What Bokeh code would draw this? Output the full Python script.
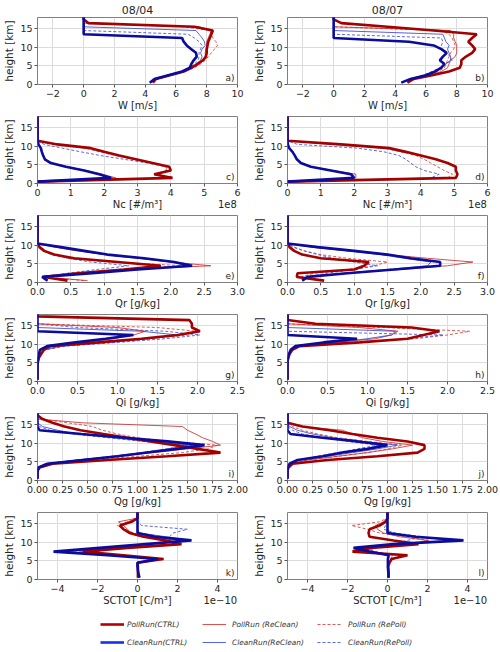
from bokeh.plotting import figure
from bokeh.layouts import column, row
from bokeh.models import Range1d, FixedTicker, Label, Legend, LegendItem, LinearAxis
from bokeh.embed import file_html
from bokeh.resources import INLINE

# ---------------- data (height levels in km) ----------------
Z_KM = [0.5, 1.5, 2.5, 3.5, 4.5, 5.5, 6.5, 7.5, 8.5, 9.5, 10.5, 11.5, 12.5, 13.5, 14.5, 15.5, 16.5, 17.5, 18.5]
DATES = ["08/04", "08/07"]
SERIES_NAMES = ["PollRun(CTRL)", "CleanRun(CTRL)", "PollRun (ReClean)", "CleanRun(ReClean)", "PollRun (RePoll)", "CleanRun(RePoll)"]

# W [m/s]
W_0804_PC = [4.5, 4.7, 5.6, 6.5, 7.0, 7.4, 7.75, 7.95, 8.0, 8.0, 8.05, 8.1, 8.2, 8.3, 8.4, 7.2, 0.3, 0, 0]
W_0804_CC = [4.3, 4.6, 5.5, 6.4, 6.9, 7.0, 7.15, 7.35, 7.3, 7.0, 6.7, 6.5, 6.4, 0, 0, 0, 0, 0, 0]
W_0804_PR = [4.5, 4.7, 5.6, 6.5, 7.1, 7.5, 7.8, 7.9, 7.9, 7.95, 8.0, 8.0, 8.1, 8.2, 8.3, 7.5, 0, 0, 0]
W_0804_CR = [4.3, 4.6, 5.5, 6.4, 7.0, 7.3, 7.6, 7.7, 7.6, 7.7, 7.9, 7.85, 7.7, 7.5, 7.3, 0, 0, 0, 0]
W_0804_PP = [4.5, 4.8, 5.7, 6.6, 7.2, 7.6, 7.9, 8.1, 8.3, 8.5, 8.7, 8.6, 8.4, 8.3, 8.2, 6.5, 0, 0, 0]
W_0804_CP = [4.3, 4.6, 5.5, 6.4, 6.9, 7.2, 7.45, 7.5, 7.5, 7.6, 7.7, 7.5, 7.2, 6.8, 0, 0, 0, 0, 0]

W_0807_PC = [4.8, 5.2, 6.4, 7.5, 8.2, 8.3, 8.3, 8.6, 9.0, 9.2, 9.0, 8.75, 9.0, 9.3, 6.5, 3.5, 0.5, 0, 0]
W_0807_CC = [4.4, 5.0, 6.0, 6.6, 7.0, 7.2, 6.9, 7.1, 7.35, 7.0, 6.5, 4.9, 0, 0, 0, 0, 0, 0, 0]
W_0807_PR = [4.8, 5.2, 6.3, 7.0, 7.4, 7.5, 7.6, 7.9, 8.0, 8.0, 8.0, 7.9, 7.8, 7.8, 7.6, 0, 0, 0, 0]
W_0807_CR = [4.4, 5.0, 5.9, 6.5, 6.9, 7.3, 7.6, 7.6, 7.5, 7.4, 7.5, 7.3, 7.2, 7.1, 0, 0, 0, 0, 0]
W_0807_PP = [4.8, 5.3, 6.2, 6.8, 7.2, 7.3, 7.4, 7.5, 7.6, 7.8, 7.9, 7.8, 7.7, 7.5, 7.0, 0, 0, 0, 0]
W_0807_CP = [4.4, 4.9, 5.8, 6.4, 6.9, 7.2, 7.7, 7.6, 7.3, 7.0, 7.0, 7.1, 7.0, 0, 0, 0, 0, 0, 0]

# Nc [1e8 #/m3]
NC_0804_PC = [0, 4.05, 3.5, 4.0, 3.95, 3.45, 2.95, 2.45, 2.0, 1.6, 0.6, 0, 0, 0, 0, 0, 0, 0, 0]
NC_0804_CC = [0, 2.2, 1.85, 1.4, 0.85, 0.4, 0.22, 0.17, 0.13, 0.1, 0.03, 0, 0, 0, 0, 0, 0, 0, 0]
NC_0804_PR = [0, 2.35, 1.95, 1.45, 0.9, 0.42, 0.24, 0.18, 0.14, 0.1, 0.04, 0, 0, 0, 0, 0, 0, 0, 0]
NC_0804_CR = [0, 2.25, 1.85, 1.4, 0.85, 0.4, 0.22, 0.17, 0.13, 0.1, 0.03, 0, 0, 0, 0, 0, 0, 0, 0]
NC_0804_PP = [0, 4.0, 3.6, 3.9, 3.85, 3.35, 2.85, 2.35, 1.85, 1.45, 0.5, 0, 0, 0, 0, 0, 0, 0, 0]
NC_0804_CP = [0, 3.95, 3.55, 3.85, 3.9, 3.3, 2.6, 1.9, 1.3, 0.75, 0.2, 0, 0, 0, 0, 0, 0, 0, 0]

NC_0807_PC = [0, 5.05, 5.1, 5.05, 5.05, 4.8, 4.45, 4.0, 3.55, 3.05, 1.6, 0, 0, 0, 0, 0, 0, 0, 0]
NC_0807_CC = [0, 2.0, 1.9, 1.3, 0.7, 0.4, 0.28, 0.22, 0.15, 0.05, 0.01, 0, 0, 0, 0, 0, 0, 0, 0]
NC_0807_PR = [0, 2.05, 2.05, 1.35, 0.72, 0.4, 0.28, 0.22, 0.15, 0.05, 0.01, 0, 0, 0, 0, 0, 0, 0, 0]
NC_0807_CR = [0, 2.0, 1.95, 1.3, 0.7, 0.4, 0.28, 0.22, 0.15, 0.05, 0.01, 0, 0, 0, 0, 0, 0, 0, 0]
NC_0807_PP = [0, 4.8, 4.95, 4.7, 4.5, 4.3, 4.1, 3.85, 3.4, 2.9, 1.3, 0, 0, 0, 0, 0, 0, 0, 0]
NC_0807_CP = [0, 4.3, 4.55, 4.1, 3.85, 3.7, 3.55, 3.35, 2.9, 2.1, 0.3, 0, 0, 0, 0, 0, 0, 0, 0]

# Qr [g/kg]
QR_0804_PC = [0.45, 0.1, 0.6, 1.3, 1.85, 1.2, 0.55, 0.25, 0.1, 0.03, 0, 0, 0, 0, 0, 0, 0, 0, 0]
QR_0804_CC = [0.15, 0.07, 0.82, 1.5, 2.32, 2.05, 1.6, 1.05, 0.7, 0.35, 0, 0, 0, 0, 0, 0, 0, 0, 0]
QR_0804_PR = [0.75, 0.1, 0.7, 1.4, 2.6, 2.0, 1.5, 1.0, 0.6, 0.25, 0, 0, 0, 0, 0, 0, 0, 0, 0]
QR_0804_CR = [0.15, 0.07, 0.8, 1.45, 2.25, 2.0, 1.55, 1.0, 0.65, 0.3, 0, 0, 0, 0, 0, 0, 0, 0, 0]
QR_0804_PP = [0.7, 0.1, 0.6, 1.2, 2.2, 1.1, 0.45, 0.2, 0.08, 0.03, 0, 0, 0, 0, 0, 0, 0, 0, 0]
QR_0804_CP = [0.15, 0.08, 0.45, 0.9, 1.37, 0.8, 0.45, 0.25, 0.12, 0.05, 0, 0, 0, 0, 0, 0, 0, 0, 0]

QR_0807_PC = [0.55, 0.14, 0.15, 1.0, 1.15, 1.22, 0.5, 0.22, 0.1, 0.03, 0, 0, 0, 0, 0, 0, 0, 0, 0]
QR_0807_CC = [0.22, 0.3, 0.9, 1.6, 2.29, 2.29, 1.85, 1.5, 1.0, 0.45, 0, 0, 0, 0, 0, 0, 0, 0, 0]
QR_0807_PR = [0.25, 0.3, 0.85, 1.7, 2.4, 2.78, 2.1, 1.5, 0.9, 0.35, 0, 0, 0, 0, 0, 0, 0, 0, 0]
QR_0807_CR = [0.22, 0.3, 0.85, 1.5, 2.1, 2.15, 1.75, 1.4, 0.9, 0.4, 0, 0, 0, 0, 0, 0, 0, 0, 0]
QR_0807_PP = [0.5, 0.2, 0.4, 0.9, 1.3, 1.5, 0.9, 0.5, 0.25, 0.08, 0, 0, 0, 0, 0, 0, 0, 0, 0]
QR_0807_CP = [0.22, 0.28, 0.6, 1.0, 1.35, 1.0, 0.7, 0.45, 0.25, 0.1, 0, 0, 0, 0, 0, 0, 0, 0, 0]

# Qi [g/kg]
QI_0804_PC = [0, 0, 0, 0, 0, 0.005, 0.02, 0.05, 0.08, 0.15, 0.75, 1.3, 1.75, 2.03, 1.93, 1.93, 1.9, 0, 0]
QI_0804_CC = [0, 0, 0, 0, 0, 0.005, 0.01, 0.02, 0.03, 0.12, 0.45, 0.85, 1.2, 0, 0, 0, 0, 0, 0]
QI_0804_PR = [0, 0, 0, 0, 0, 0, 0.01, 0.03, 0.06, 0.2, 0.6, 0.95, 1.2, 1.35, 1.0, 0, 0, 0, 0]
QI_0804_CR = [0, 0, 0, 0, 0, 0, 0.01, 0.03, 0.08, 0.3, 0.9, 1.4, 1.75, 1.3, 0, 0, 0, 0, 0]
QI_0804_PP = [0, 0, 0, 0, 0, 0, 0.01, 0.04, 0.08, 0.3, 0.9, 1.4, 1.9, 2.0, 1.5, 0, 0, 0, 0]
QI_0804_CP = [0, 0, 0, 0, 0, 0, 0.01, 0.04, 0.1, 0.35, 1.0, 1.6, 2.03, 1.6, 0.5, 0, 0, 0, 0]

QI_0807_PC = [0, 0, 0, 0, 0, 0, 0.01, 0.03, 0.06, 0.15, 0.9, 1.5, 1.7, 1.9, 1.55, 0.35, 0, 0, 0]
QI_0807_CC = [0, 0, 0, 0, 0, 0, 0.01, 0.02, 0.04, 0.1, 0.45, 0.87, 0, 0, 0, 0, 0, 0, 0]
QI_0807_PR = [0, 0, 0, 0, 0, 0, 0.01, 0.03, 0.05, 0.12, 0.6, 1.1, 1.3, 1.38, 0.9, 0, 0, 0, 0]
QI_0807_CR = [0, 0, 0, 0, 0, 0, 0.01, 0.02, 0.05, 0.12, 0.6, 1.0, 1.3, 1.35, 0, 0, 0, 0, 0]
QI_0807_PP = [0, 0, 0, 0, 0, 0, 0.01, 0.03, 0.06, 0.15, 0.9, 1.6, 2.0, 2.28, 1.2, 0, 0, 0, 0]
QI_0807_CP = [0, 0, 0, 0, 0, 0, 0.01, 0.03, 0.06, 0.15, 0.8, 1.5, 1.95, 0, 0, 0, 0, 0, 0]

# Qg [g/kg]
QG_0804_PC = [0, 0, 0, 0.02, 0.15, 0.7, 1.3, 1.83, 1.6, 1.37, 1.13, 0.9, 0.66, 0.43, 0.27, 0.15, 0.05, 0, 0]
QG_0804_CC = [0, 0, 0, 0.01, 0.1, 0.45, 0.8, 1.1, 1.4, 1.67, 1.3, 0.87, 0.44, 0.02, 0, 0, 0, 0, 0]
QG_0804_PR = [0, 0, 0, 0.01, 0.08, 0.4, 0.8, 1.15, 1.5, 1.83, 1.75, 1.65, 1.58, 1.5, 1.45, 0.45, 0, 0, 0]
QG_0804_CR = [0, 0, 0, 0.01, 0.08, 0.4, 0.75, 1.05, 1.3, 1.55, 1.1, 0.75, 0.4, 0.2, 0.05, 0, 0, 0, 0]
QG_0804_PP = [0, 0, 0, 0.01, 0.1, 0.5, 1.0, 1.45, 1.7, 1.8, 1.3, 1.0, 0.8, 0.65, 0.55, 0.3, 0.05, 0, 0]
QG_0804_CP = [0, 0, 0, 0.01, 0.08, 0.4, 0.75, 1.05, 1.3, 1.5, 1.05, 0.7, 0.35, 0.12, 0.02, 0, 0, 0, 0]

QG_0807_PC = [0, 0, 0, 0.01, 0.05, 0.4, 0.9, 1.3, 1.37, 1.37, 1.2, 0.9, 0.65, 0.42, 0.15, 0, 0, 0, 0]
QG_0807_CC = [0, 0, 0, 0, 0.02, 0.1, 0.35, 0.55, 0.8, 1.0, 0.7, 0.35, 0.03, 0, 0, 0, 0, 0, 0]
QG_0807_PR = [0, 0, 0, 0, 0.03, 0.2, 0.5, 0.8, 1.05, 1.25, 0.95, 0.75, 0.65, 0.55, 0.12, 0, 0, 0, 0]
QG_0807_CR = [0, 0, 0, 0, 0.02, 0.12, 0.4, 0.65, 0.9, 1.1, 0.75, 0.45, 0.25, 0.1, 0.02, 0, 0, 0, 0]
QG_0807_PP = [0, 0, 0, 0, 0.03, 0.2, 0.5, 0.8, 1.0, 1.15, 0.8, 0.5, 0.3, 0.15, 0.05, 0, 0, 0, 0]
QG_0807_CP = [0, 0, 0, 0, 0.02, 0.1, 0.3, 0.5, 0.7, 0.9, 0.6, 0.35, 0.15, 0.05, 0, 0, 0, 0, 0]

# SCTOT [1e-10 C/m3]
SC_0804_PC = [0.02, 0.02, 0.02, 0.02, 0.0, 1.3, -0.7, -2.75, -0.5, 2.2, 1.4, 0.3, -0.4, -0.7, -0.88, -0.3, 0, 0, 0]
SC_0804_CC = [0.1, 0.05, 0.02, 0, 0, 1.0, -1.5, -4.2, -1.9, 0.4, 2.7, 0.9, 0, 0, 0, 0, 0, 0, 0]
SC_0804_PR = [0.02, 0.02, 0.02, 0, 0, 1.2, -1.2, -3.5, -1.0, 1.8, 2.0, 0.5, -0.3, -0.5, -0.7, -0.95, 0, 0, 0]
SC_0804_CR = [0.1, 0.05, 0.02, 0, 0, 1.0, -1.4, -4.0, -1.8, 0.5, 2.6, 1.4, 0.1, 0, 0, 0, 0, 0, 0]
SC_0804_PP = [0.02, 0.02, 0.02, 0, 0, 1.3, -0.8, -2.9, -0.7, 2.0, 1.6, 0.3, -0.2, -0.6, -1.0, -0.5, 0, 0, 0]
SC_0804_CP = [0.1, 0.05, 0.02, 0, 0, 0.9, -1.2, -3.8, -1.5, 0.6, 1.6, 1.6, 1.8, 2.5, 0.2, 0, 0, 0, 0]

SC_0807_PC = [0.05, 0.05, 0.05, 0.03, 0.1, 0.2, 1.0, -1.75, -0.8, 1.55, 0.3, -0.9, -0.95, -0.9, -0.4, -0.1, 0, 0, 0]
SC_0807_CC = [0.05, 0.05, 0.03, 0.02, 0.02, 0.02, 0.05, -0.9, -1.7, 0.3, 3.8, 1.4, 0, 0, 0, 0, 0, 0, 0]
SC_0807_PR = [0.05, 0.05, 0.05, 0.03, 0.05, 0.3, 0.8, -1.4, -1.2, 1.2, 2.0, 0.6, -0.2, -0.5, -0.6, -0.2, 0, 0, 0]
SC_0807_CR = [0.05, 0.05, 0.03, 0.02, 0.02, 0.05, 0.1, -0.8, -1.6, 0.5, 3.3, 1.5, 0.1, 0, 0, 0, 0, 0, 0]
SC_0807_PP = [0.05, 0.05, 0.05, 0.03, 0.1, 0.3, 0.7, -1.2, -0.6, 0.8, 2.1, 0.9, -0.4, -1.0, -1.8, -0.4, 0, 0, 0]
SC_0807_CP = [0.05, 0.05, 0.03, 0.02, 0.02, 0.1, 0.3, -0.6, -1.2, 0.3, 1.0, 1.7, 0.4, -0.2, -0.1, 0, 0, 0, 0]

# ticks
Y_TICKS = [0, 5, 10, 15]
W_TICKS = [-2, 0, 2, 4, 6, 8, 10]
W_LABELS = ["\u22122", "0", "2", "4", "6", "8", "10"]
NC_TICKS = [0, 1, 2, 3, 4, 5, 6]
NC_LABELS = ["0", "1", "2", "3", "4", "5", "6"]
QR_TICKS = [0, 0.5, 1.0, 1.5, 2.0, 2.5, 3.0]
QR_LABELS = ["0.0", "0.5", "1.0", "1.5", "2.0", "2.5", "3.0"]
QI_TICKS = [0, 0.5, 1.0, 1.5, 2.0, 2.5]
QI_LABELS = ["0.0", "0.5", "1.0", "1.5", "2.0", "2.5"]
QG_TICKS = [0, 0.25, 0.5, 0.75, 1.0, 1.25, 1.5, 1.75, 2.0]
QG_LABELS = ["0.00", "0.25", "0.50", "0.75", "1.00", "1.25", "1.50", "1.75", "2.00"]
SC_TICKS = [-4, -2, 0, 2, 4]
SC_LABELS = ["\u22124", "\u22122", "0", "2", "4"]

ROWS = [
    ("W [m/s]", (-3, 10), W_TICKS, W_LABELS, None,
     [W_0804_PC, W_0804_CC, W_0804_PR, W_0804_CR, W_0804_PP, W_0804_CP],
     [W_0807_PC, W_0807_CC, W_0807_PR, W_0807_CR, W_0807_PP, W_0807_CP]),
    ("Nc [#/m\u00b3]", (0, 6), NC_TICKS, NC_LABELS, "1e8",
     [NC_0804_PC, NC_0804_CC, NC_0804_PR, NC_0804_CR, NC_0804_PP, NC_0804_CP],
     [NC_0807_PC, NC_0807_CC, NC_0807_PR, NC_0807_CR, NC_0807_PP, NC_0807_CP]),
    ("Qr [g/kg]", (0, 3), QR_TICKS, QR_LABELS, None,
     [QR_0804_PC, QR_0804_CC, QR_0804_PR, QR_0804_CR, QR_0804_PP, QR_0804_CP],
     [QR_0807_PC, QR_0807_CC, QR_0807_PR, QR_0807_CR, QR_0807_PP, QR_0807_CP]),
    ("Qi [g/kg]", (0, 2.5), QI_TICKS, QI_LABELS, None,
     [QI_0804_PC, QI_0804_CC, QI_0804_PR, QI_0804_CR, QI_0804_PP, QI_0804_CP],
     [QI_0807_PC, QI_0807_CC, QI_0807_PR, QI_0807_CR, QI_0807_PP, QI_0807_CP]),
    ("Qg [g/kg]", (0, 2), QG_TICKS, QG_LABELS, None,
     [QG_0804_PC, QG_0804_CC, QG_0804_PR, QG_0804_CR, QG_0804_PP, QG_0804_CP],
     [QG_0807_PC, QG_0807_CC, QG_0807_PR, QG_0807_CR, QG_0807_PP, QG_0807_CP]),
    ("SCTOT [C/m\u00b3]", (-5, 5), SC_TICKS, SC_LABELS, "1e\u221210",
     [SC_0804_PC, SC_0804_CC, SC_0804_PR, SC_0804_CR, SC_0804_PP, SC_0804_CP],
     [SC_0807_PC, SC_0807_CC, SC_0807_PR, SC_0807_CR, SC_0807_PP, SC_0807_CP]),
]
LETTERS = ["a)", "b)", "c)", "d)", "e)", "f)", "g)", "h)", "i)", "j)", "k)", "l)"]

# ---------------- styles ----------------
FONT = "DejaVu Sans"
TXT = "#262626"
# order: PC, CC, PR, CR, PP, CP
STYLES = [
    dict(line_color="#a30000", line_width=2.6, line_alpha=1.0, line_dash="solid"),
    dict(line_color="#0b0b9e", line_width=2.6, line_alpha=1.0, line_dash="solid"),
    dict(line_color="#cc3030", line_width=1.0, line_alpha=0.85, line_dash="solid"),
    dict(line_color="#3c48cc", line_width=1.0, line_alpha=0.85, line_dash="solid"),
    dict(line_color="#d84a4a", line_width=1.0, line_alpha=0.9, line_dash="3 2"),
    dict(line_color="#4a58d8", line_width=1.0, line_alpha=0.9, line_dash="3 2"),
]
DRAW_ORDER = [4, 5, 2, 3, 0, 1]
LABEL_PX = 10.0
EM_WIDTH = {"1": 0.636, "e": 0.615, "8": 0.636, "0": 0.636, "\u2212": 0.838}


def make_panel(r, c, spec):
    xlabel, xr, ticks, labels, offset_txt, d04, d07 = spec
    series = d04 if c == 0 else d07
    top = 16 if r == 0 else 3
    height = 113 if r == 0 else 99
    frame_h = 71 if r == 0 else 70
    left = 30 if c == 0 else 29
    right = 13
    p = figure(width=250, height=height, x_range=Range1d(*xr), y_range=Range1d(0, 18),
               output_backend="svg", toolbar_location=None,
               min_border_left=left, min_border_right=right,
               min_border_top=top, min_border_bottom=height - top - frame_h)
    p.background_fill_color = "white"
    p.border_fill_color = "white"
    p.outline_line_color = "#808080"
    p.outline_line_width = 1
    for idx in DRAW_ORDER:
        p.line(series[idx], Z_KM, **STYLES[idx])
    p.xaxis.ticker = FixedTicker(ticks=ticks)
    p.yaxis.ticker = FixedTicker(ticks=Y_TICKS)
    p.xaxis.major_label_overrides = {t: s for t, s in zip(ticks, labels)}
    for ax in (p.xaxis[0], p.yaxis[0]):
        ax.axis_line_color = None
        ax.major_tick_line_color = "#555555"
        ax.major_tick_out = 3
        ax.major_tick_in = 0
        ax.minor_tick_line_color = None
        ax.major_label_text_font = FONT
        ax.major_label_text_font_size = "9.5px"
        ax.major_label_text_color = TXT
        ax.major_label_standoff = 2
        ax.axis_label_text_font = FONT
        ax.axis_label_text_font_size = "10.5px"
        ax.axis_label_text_font_style = "normal"
        ax.axis_label_text_color = TXT
        ax.axis_label_standoff = 2
    p.yaxis.axis_label = "height [km]"

    # second axis row carrying the x label (centred) and the offset text (right)
    frame_w = 250 - left - right
    mid = (xr[0] + xr[1]) / 2
    lab_ticks = [mid]
    lab_over = {mid: xlabel}
    if offset_txt:
        wpx = sum(EM_WIDTH.get(ch, 0.6) for ch in offset_txt) * LABEL_PX
        pos = xr[1] - (wpx / 2 + 1) * (xr[1] - xr[0]) / frame_w
        lab_ticks.append(pos)
        lab_over[pos] = offset_txt
    lab_ax = LinearAxis(ticker=FixedTicker(ticks=lab_ticks), major_label_overrides=lab_over,
                        axis_line_color=None, major_tick_line_color=None, major_tick_out=0,
                        major_tick_in=0, minor_tick_line_color=None, major_label_standoff=0,
                        major_label_text_font=FONT, major_label_text_font_size="%.1fpx" % LABEL_PX,
                        major_label_text_color=TXT)
    p.add_layout(lab_ax, "below")

    p.xgrid.grid_line_color = "#dcdcdc"
    p.ygrid.grid_line_color = "#dcdcdc"
    p.xgrid.grid_line_width = 1
    p.ygrid.grid_line_width = 1
    p.add_layout(Label(x=xr[1], y=0, x_offset=-3, y_offset=2, text=LETTERS[2 * r + c],
                       text_align="right", text_baseline="bottom", text_font=FONT,
                       text_font_size="9px", text_color=TXT))
    if r == 0:
        p.title.text = DATES[c]
        p.title.align = "center"
        p.title.text_font = FONT
        p.title.text_font_size = "11px"
        p.title.text_font_style = "normal"
        p.title.text_color = TXT
        p.title.standoff = 2
    return p


rows = []
for r, spec in enumerate(ROWS):
    rows.append(row(make_panel(r, 0, spec), make_panel(r, 1, spec)))

# ---------------- legend strip ----------------
leg = figure(width=500, height=44, x_range=Range1d(0, 1), y_range=Range1d(0, 1),
             output_backend="svg", toolbar_location=None, min_border=0,
             x_axis_type=None, y_axis_type=None)
leg.outline_line_color = None
leg.xgrid.visible = False
leg.ygrid.visible = False
LEG_STYLES = [
    dict(line_color="#b30000", line_width=2.6, line_dash="solid"),
    dict(line_color="#1233e8", line_width=2.6, line_dash="solid"),
    dict(line_color="#e05050", line_width=1.0, line_dash="solid"),
    dict(line_color="#5565ee", line_width=1.0, line_dash="solid"),
    dict(line_color="#e05858", line_width=1.0, line_dash="3 2"),
    dict(line_color="#5868ee", line_width=1.0, line_dash="3 2"),
]
NAN = float("nan")
rends = [leg.line([NAN], [NAN], **s) for s in LEG_STYLES]
for col_i, (xloc, stand) in enumerate([(100, 3), (202, 6), (317, 7)]):
    items = [LegendItem(label=SERIES_NAMES[2 * col_i], renderers=[rends[2 * col_i]]),
             LegendItem(label=SERIES_NAMES[2 * col_i + 1], renderers=[rends[2 * col_i + 1]])]
    lg = Legend(items=items, location=(xloc, 3), orientation="vertical",
                glyph_width=24, glyph_height=14, label_height=14, spacing=4,
                padding=0, margin=0, label_standoff=stand,
                label_text_font=FONT, label_text_font_size="7.4px",
                label_text_font_style="italic", label_text_color="#333333",
                border_line_color=None, background_fill_alpha=0)
    leg.add_layout(lg)

layout = column(*rows, leg)
open("out.html", "w").write(file_html(layout, INLINE))
